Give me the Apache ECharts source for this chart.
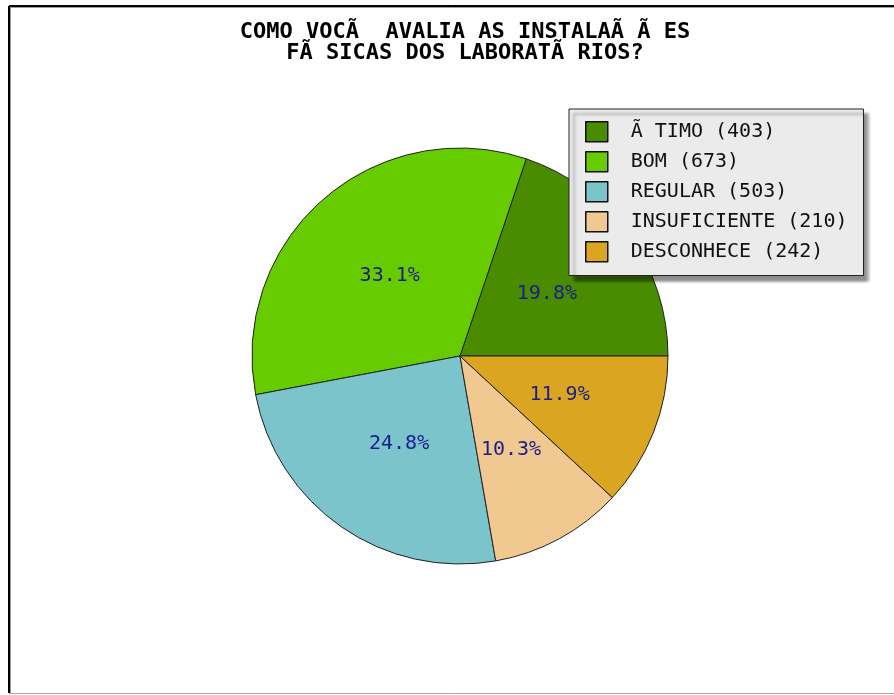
<!DOCTYPE html>
<html><head><meta charset="utf-8">
<script src="https://cdn.jsdelivr.net/npm/echarts@6/dist/echarts.min.js"></script>
<style>html,body{margin:0;padding:0;background:#fff}#c{width:894px;height:695px}</style>
</head><body><div id="c"></div>
<script>
const titleText = 'COMO VOCÃ  AVALIA AS INSTALAÃ Ã ES\nFÃ SICAS DOS LABORATÃ RIOS?';
const categories = ['Ã TIMO', 'BOM', 'REGULAR', 'INSUFICIENTE', 'DESCONHECE'];
const values = [403, 673, 503, 210, 242];
const colors = ['#4a8c00', '#66cc00', '#7cc4cc', '#f0c890', '#daa520'];

const font = 'DejaVu Sans Mono, Liberation Mono, monospace';
const chart = echarts.init(document.getElementById('c'), null, {renderer: 'canvas'});
const valueOf = {};
categories.forEach((c, i) => valueOf[c] = values[i]);
const total = values.reduce((a, b) => a + b, 0);

chart.setOption({
  animation: false,
  backgroundColor: '#ffffff',
  title: {
    text: titleText,
    left: 460, top: 17, textAlign: 'center',
    textStyle: {fontFamily: font, fontSize: 22, lineHeight: 21, fontWeight: 'bold', color: '#000'}
  },
  legend: {
    orient: 'vertical',
    left: 569, top: 109,
    width: 294,
    padding: [12, 16, 13, 16],
    icon: 'rect',
    itemWidth: 22, itemHeight: 20, itemGap: 8.5,
    backgroundColor: '#ebebeb',
    borderColor: '#222', borderWidth: 1,
    shadowColor: 'rgba(0,0,0,0.45)', shadowOffsetX: 5, shadowOffsetY: 5, shadowBlur: 3,
    itemStyle: {borderColor: '#111', borderWidth: 1.5},
    textStyle: {fontFamily: font, fontSize: 20, lineHeight: 20, color: '#111', padding: [0, 0, 0, 18]},
    formatter: n => n + ' (' + valueOf[n] + ')',
    data: categories
  },
  series: [{
    type: 'pie',
    center: [460, 356],
    radius: 208,
    startAngle: 0,
    clockwise: false,
    silent: true,
    itemStyle: {borderColor: '#222', borderWidth: 1},
    label: {position: 'inside', formatter: p => (p.value / total * 100).toFixed(1) + '%', fontFamily: font, fontSize: 20, color: '#1c1c8c'},
    labelLine: {show: false},
    data: categories.map((c, i) => ({name: c, value: values[i], itemStyle: {color: colors[i]}}))
  }],
  graphic: [
    {type: 'line', shape: {x1: 9, y1: 6, x2: 894, y2: 6}, style: {stroke: '#000', lineWidth: 2}},
    {type: 'line', shape: {x1: 9, y1: 6, x2: 9, y2: 693}, style: {stroke: '#000', lineWidth: 2}},
    {type: 'line', shape: {x1: 11, y1: 7.5, x2: 894, y2: 7.5}, style: {stroke: '#999', lineWidth: 1}},
    {type: 'line', shape: {x1: 10.5, y1: 7, x2: 10.5, y2: 693}, style: {stroke: '#999', lineWidth: 1}},
    {type: 'line', shape: {x1: 9, y1: 693.5, x2: 894, y2: 693.5}, style: {stroke: '#aaa', lineWidth: 1}}
  ]
});
</script></body></html>
